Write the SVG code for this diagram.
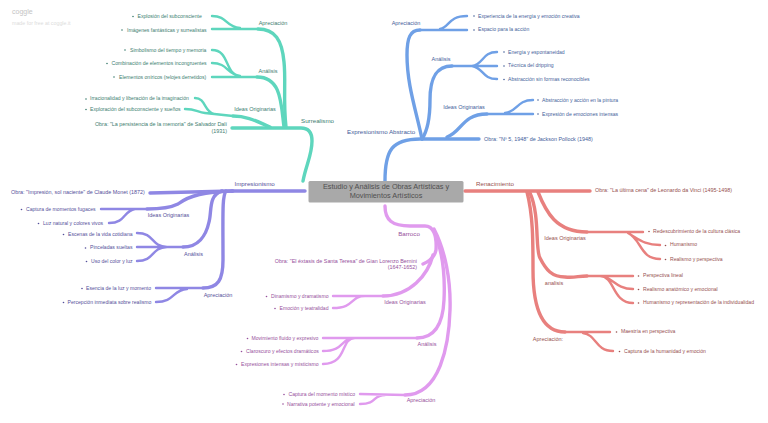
<svg xmlns="http://www.w3.org/2000/svg" width="768" height="423" viewBox="0 0 768 423">
<style>
text{font-family:"Liberation Sans",Arial,sans-serif;font-size:5.1px}
.e{text-anchor:end}.m{text-anchor:middle}
.h{font-size:6.2px}.o{font-size:5.4px}.l{font-size:5.5px}
path{fill:none;stroke-linecap:round;stroke-linejoin:round}
.t{stroke-width:3.4}.s{stroke-width:2.4}
.teal path{stroke:#5ed6bd}.teal text,.teal circle{fill:#3d7d70}
.blue path{stroke:#6fa0e6}.blue text,.blue circle{fill:#44609a}
.pur path{stroke:#8f87e4}.pur text,.pur circle{fill:#544f9a}
.vio path{stroke:#e09aee}.vio text,.vio circle{fill:#96509c}
.red path{stroke:#e8807e}.red text,.red circle{fill:#96504f}
</style>
<rect width="768" height="423" fill="#fff"/>
<g id="watermark"><text x="12" y="14" style="font-size:7px;fill:#c4c4c4">coggle</text><text x="12" y="24.500" style="font-size:5.300px;fill:#dcdcdc">made for free at coggle.it</text></g>
<g id="connectors">
<g class="teal"><path class="t" d="M303 181C306 165 312 155 312 141C312 132 308 128 301 128L232 128"/>
<path class="t" d="M270 127C258 122 248 116 233 116"/><path class="s" d="M233 116L205 113C197 112 196 109 185 109M214 114C204 112 206 98 195 98"/>
<path class="t" d="M284 127C281 105 282 77 257 77"/><path class="s" d="M257 77L212 77M240 76C226 74 228 63 212 63M240 76C224 74 230 50 212 50"/>
<path class="t" d="M286 127C283 100 286 80 284 62C282 40 275 29 258 29"/><path class="s" d="M258 29L212 29M240 28C225 27 228 16 212 16"/></g>
<g class="blue"><path class="t" d="M385 181C385 150 392 139 420 139L479 139"/>
<path class="t" d="M447 137C462 132 462 114 487 114"/><path class="s" d="M487 114L533 114M505 113C518 112 516 100 533 100"/>
<path class="t" d="M422 139C428 130 430 115 430 100C430 80 435 66 452 66"/><path class="s" d="M452 66L497 66M472 66C484 64 482 52 497 52M472 66C484 68 482 79 497 79"/>
<path class="t" d="M422 139C416 110 407 85 407 55C407 38 410 30 420 30"/><path class="s" d="M420 30L467 30M440 29C450 27 448 16 467 16"/></g>
<g class="pur"><path class="t" d="M305 191L232 191"/><path class="t" d="M233 191L150 193"/>
<path class="t" d="M232 191C205 192 190 195 178 204C170 208 160 209 147 209"/><path class="s" d="M147 209L101 209M135 209C123 211 126 223 109 223"/>
<path class="t" d="M222 191C208 195 212 212 209 222C206 236 198 247 183 247"/><path class="s" d="M183 247L137 247M167 247C150 246 155 233 137 233M167 247C150 248 155 261 137 261"/>
<path class="t" d="M226 191C222 196 223 215 223 260C223 280 218 288 203 288"/><path class="s" d="M203 288L156 288M187 289C172 290 175 302 156 302"/></g>
<g class="vio"><path class="t" d="M385 206C385 220 392 226 410 226L425 226C433 226 437 235 436 250C435 256 430 261 423 264"/>
<path class="t" d="M433 255C428 275 410 296 383 296"/><path class="s" d="M383 296L333 296M365 296C350 296 355 308 333 308"/>
<path class="t" d="M436 236C443 255 445 280 444 300C443 322 436 338 417 338"/><path class="s" d="M417 338L323 338M355 338C340 338 345 351 323 351M355 338C340 338 348 364 323 364"/>
<path class="t" d="M434 229C445 250 451 280 450 310C449 345 440 395 405 395"/><path class="s" d="M405 395L360 394M385 395C372 395 378 404 360 404"/></g>
<g class="red"><path class="t" d="M465 191L590 191"/>
<path class="t" d="M538 192C546 212 556 232 587 232"/><path class="s" d="M587 232L643 232M628 233C640 240 645 245 660 245M628 233C642 240 640 259 660 259"/>
<path class="t" d="M530 193C540 215 535 250 540 258C546 270 552 277 565 277C575 278 578 276 587 276"/><path class="s" d="M587 276L633 276M600 276C612 276 615 289 633 289M600 276C615 276 612 303 633 303"/>
<path class="t" d="M527 192C533 215 533 240 533 270C533 305 540 332 565 332"/><path class="s" d="M565 332L610 332M583 333C597 335 595 351 613 351"/></g>
</g>
<g id="central"><rect x="308.500" y="181" width="155" height="21.500" rx="1.500" fill="#a9a9a9"/><text class="m" x="386" y="189" style="font-size:7.300px;fill:#505050">Estudio y Análisis de Obras Artísticas y</text><text class="m" x="386" y="197.500" style="font-size:7.300px;fill:#505050">Movimientos Artísticos</text></g>
<g id="surrealismo" class="teal"><text class="h" x="301" y="123">Surrealismo</text>
<text class="m l" x="273" y="25">Apreciación</text><text x="137.500" y="18">Explosión del subconsciente</text><text x="127" y="31.500">Imágenes fantásticas y surrealistas</text><circle cx="133" cy="16.500" r=".8"/><circle cx="122" cy="30" r=".8"/>
<text class="m l" x="268" y="72.500">Análisis</text><text x="130" y="51.500">Simbolismo del tiempo y memoria</text><text x="111.500" y="65">Combinación de elementos incongruentes</text><text x="119" y="78.500">Elementos oníricos (relojes derretidos)</text><circle cx="125" cy="50" r=".8"/><circle cx="107" cy="63.500" r=".8"/><circle cx="114" cy="77" r=".8"/>
<text class="m l" x="255" y="110.500">Ideas Originarias</text><text x="90" y="100">Irracionalidad y liberación de la imaginación</text><text x="90" y="110.500">Exploración del subconsciente y sueños</text><circle cx="86" cy="99" r=".8"/><circle cx="86" cy="109.500" r=".8"/>
<text class="e o" x="227" y="125.500">Obra: "La persistencia de la memoria" de Salvador Dalí</text><text class="e o" x="227" y="132.500">(1931)</text></g>
<g id="expresionismo" class="blue"><text class="h" x="347" y="134">Expresionismo Abstracto</text>
<text class="m l" x="406" y="25">Apreciación</text><text x="478" y="17.500">Experiencia de la energía y emoción creativa</text><text x="478" y="31">Espacio para la acción</text><circle cx="474" cy="16" r=".8"/><circle cx="474" cy="30" r=".8"/>
<text class="m l" x="441" y="61">Análisis</text><text x="508" y="53.500">Energía y espontaneidad</text><text x="508" y="67">Técnica del dripping</text><text x="508" y="80.500">Abstracción sin formas reconocibles</text><circle cx="504" cy="52" r=".8"/><circle cx="504" cy="66" r=".8"/><circle cx="504" cy="79.500" r=".8"/>
<text class="m l" x="464" y="108.500">Ideas Originarias</text><text x="542" y="101.500">Abstracción y acción en la pintura</text><text x="542" y="115.500">Expresión de emociones intensas</text><circle cx="538" cy="100" r=".8"/><circle cx="538" cy="114" r=".8"/>
<text class="o" x="484" y="140.500">Obra: "Nº 5, 1948" de Jackson Pollock (1948)</text></g>
<g id="impresionismo" class="pur"><text class="h" x="234.500" y="186">Impresionismo</text><text class="o" x="11" y="194">Obra: "Impresión, sol naciente" de Claude Monet (1872)</text>
<text class="m l" x="168.500" y="217">Ideas Originarias</text><text x="26" y="210.800">Captura de momentos fugaces</text><text x="43" y="224.500">Luz natural y colores vivos</text><circle cx="21.500" cy="209.500" r=".8"/><circle cx="38.500" cy="223.500" r=".8"/>
<text class="m l" x="193.500" y="255.500">Análisis</text><text x="68" y="235.800">Escenas de la vida cotidiana</text><text x="90" y="249.200">Pinceladas sueltas</text><text x="91" y="262.800">Uso del color y luz</text><circle cx="63.500" cy="234.500" r=".8"/><circle cx="85.500" cy="248" r=".8"/><circle cx="86.500" cy="261.500" r=".8"/>
<text class="m l" x="218" y="297">Apreciación</text><text x="86" y="289.800">Esencia de la luz y momento</text><text x="67.500" y="303.800">Percepción inmediata sobre realismo</text><circle cx="82" cy="288.500" r=".8"/><circle cx="63.500" cy="302.500" r=".8"/></g>
<g id="barroco" class="vio"><text class="h m" x="409" y="235.500">Barroco</text><text class="e o" x="417" y="262.500">Obra: "El éxtasis de Santa Teresa" de Gian Lorenzo Bernini</text><text class="e o" x="417" y="269">(1647-1652)</text>
<text class="m l" x="405" y="304">Ideas Originarias</text><text x="271" y="297.800">Dinamismo y dramatismo</text><text x="279.500" y="309.800">Emoción y teatralidad</text><circle cx="266.500" cy="296.500" r=".8"/><circle cx="275" cy="308.500" r=".8"/>
<text class="m l" x="427" y="346">Análisis</text><text x="251.500" y="339.500">Movimiento fluido y expresivo</text><text x="246" y="352.800">Claroscuro y efectos dramáticos</text><text x="241" y="366">Expresiones intensas y misticismo</text><circle cx="247.500" cy="338.500" r=".8"/><circle cx="241.500" cy="351.500" r=".8"/><circle cx="236.500" cy="364.500" r=".8"/>
<text class="m l" x="421" y="402">Apreciación</text><text x="288.500" y="396">Captura del momento místico</text><text x="287" y="405.500">Narrativa potente y emocional</text><circle cx="284" cy="394.500" r=".8"/><circle cx="283" cy="404" r=".8"/></g>
<g id="renacimiento" class="red"><text class="h" x="476" y="186">Renacimiento</text><text class="o" x="595" y="191.500">Obra: "La última cena" de Leonardo da Vinci (1495-1498)</text>
<text class="m l" x="565" y="239.500">Ideas Originarias</text><text x="653" y="232.500">Redescubrimiento de la cultura clásica</text><text x="670" y="246">Humanismo</text><text x="670" y="260.500">Realismo y perspectiva</text><circle cx="649" cy="231.500" r=".8"/><circle cx="665.500" cy="245.500" r=".8"/><circle cx="665.500" cy="259.500" r=".8"/>
<text class="m l" x="554" y="285">analisis</text><text x="643" y="276.800">Perspectiva lineal</text><text x="643" y="290.500">Realismo anatómico y emocional</text><text x="643" y="304">Humanismo y representación de la individualidad</text><circle cx="638.500" cy="276" r=".8"/><circle cx="638.500" cy="289.500" r=".8"/><circle cx="638.500" cy="303" r=".8"/>
<text class="m l" x="548" y="340.500">Apreciación:</text><text x="621" y="333">Maestría en perspectiva</text><text x="624" y="352.500">Captura de la humanidad y emoción</text><circle cx="616.500" cy="332" r=".8"/><circle cx="619.500" cy="351.500" r=".8"/></g>
</svg>
